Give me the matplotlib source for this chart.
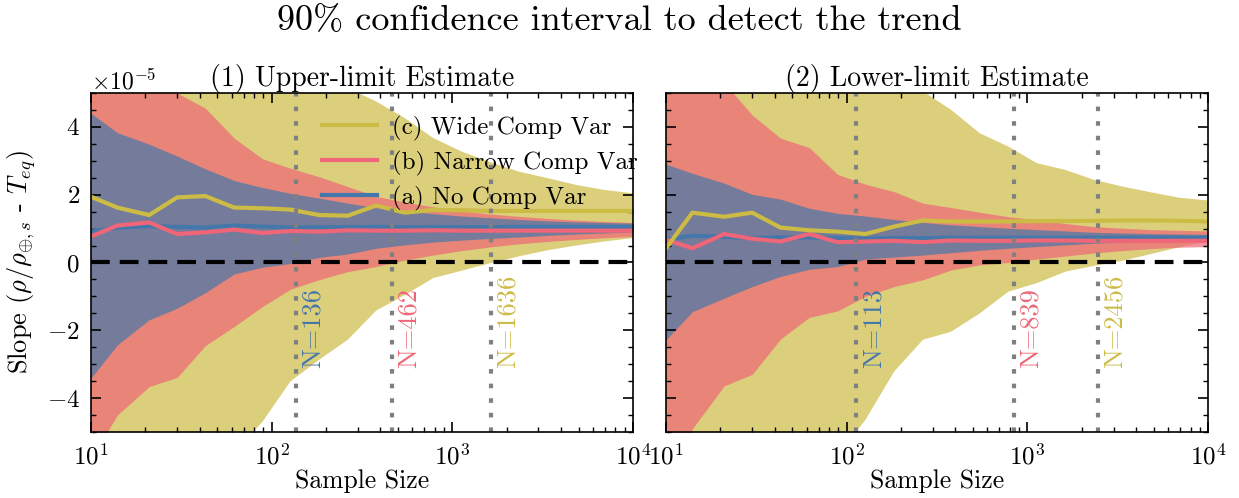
import numpy as np
import matplotlib
matplotlib.use('Agg')
import matplotlib.pyplot as plt
from matplotlib.ticker import MultipleLocator, ScalarFormatter

plt.rcParams['font.family'] = 'serif'
plt.rcParams['font.serif'] = ['cmr10']
plt.rcParams['mathtext.fontset'] = 'cm'
plt.rcParams['axes.formatter.use_mathtext'] = True
plt.rcParams['axes.unicode_minus'] = True

# sample sizes
sizes = [10, 14, 21, 30, 43, 62, 89, 127, 183, 264, 379, 546, 785, 1129,
         1624, 2336, 3360, 4833, 6952, 10000]

# (1) upper-limit estimate, slope in units of 1e-5
up_yel_mean = [1.94, 1.62, 1.40, 1.92, 1.96, 1.62, 1.60, 1.56, 1.40, 1.38,
               1.68, 1.47, 1.55, 1.54, 1.52, 1.52, 1.52, 1.52, 1.52, 1.52]
up_red_mean = [0.77, 1.09, 1.18, 0.84, 0.89, 0.97, 0.87, 0.93, 0.91, 0.95,
               0.94, 0.94, 0.95, 0.94, 0.94, 0.94, 0.94, 0.94, 0.94, 0.94]
up_blue_mean = [0.91, 1.03, 1.07, 1.05, 1.03, 1.09, 1.06, 1.03, 1.04, 1.04,
                1.05, 1.04, 1.04, 1.04, 1.04, 1.05, 1.05, 1.05, 1.05, 1.05]
up_yel_hi = [12, 11, 10, 9, 8.5, 8, 7, 6.5, 6, 5.15,
             4.75, 4.26, 3.67, 3.27, 2.96, 2.68, 2.49, 2.29, 2.14, 2.04]
up_yel_lo = [-12, -11, -10, -9, -8, -5.6, -4.7, -3.51, -2.87, -2.28,
             -1.42, -0.96, -0.46, -0.24, -0.02, 0.18, 0.36, 0.50, 0.62, 0.72]
up_red_hi = [7.2, 6.3, 5.6, 5.0, 4.55, 3.67, 3.06, 2.78, 2.53, 2.24,
             1.95, 1.78, 1.64, 1.52, 1.43, 1.36, 1.30, 1.25, 1.21, 1.18]
up_red_lo = [-5.8, -4.5, -3.66, -3.39, -2.45, -1.89, -1.30, -0.79, -0.51, -0.27,
             -0.12, 0.07, 0.22, 0.35, 0.46, 0.55, 0.62, 0.68, 0.73, 0.77]
up_blue_hi = [4.40, 3.83, 3.49, 3.14, 2.76, 2.42, 2.21, 2.04, 1.90, 1.75,
              1.62, 1.52, 1.44, 1.37, 1.32, 1.27, 1.23, 1.20, 1.18, 1.16]
up_blue_lo = [-3.41, -2.43, -1.69, -1.35, -0.89, -0.34, -0.14, -0.03, 0.15, 0.25,
              0.42, 0.52, 0.60, 0.66, 0.71, 0.75, 0.80, 0.84, 0.87, 0.90]
up_n = [136, 462, 1636]

# (2) lower-limit estimate
lo_yel_mean = [0.42, 1.47, 1.35, 1.47, 1.03, 0.95, 0.91, 0.84, 1.06, 1.24,
               1.21, 1.21, 1.21, 1.22, 1.22, 1.23, 1.24, 1.24, 1.23, 1.21]
lo_red_mean = [0.67, 0.42, 0.84, 0.70, 0.62, 0.84, 0.60, 0.62, 0.64, 0.60,
               0.65, 0.64, 0.64, 0.65, 0.65, 0.64, 0.64, 0.64, 0.64, 0.64]
lo_blue_mean = [0.67, 0.79, 0.76, 0.72, 0.74, 0.74, 0.72, 0.70, 0.72, 0.72,
                0.73, 0.73, 0.73, 0.73, 0.73, 0.73, 0.73, 0.73, 0.73, 0.73]
lo_yel_hi = [12, 11, 10, 9, 8.5, 8, 7, 6, 5.6, 5.05,
             4.5, 3.81, 3.42, 2.93, 2.73, 2.44, 2.24, 2.07, 1.91, 1.83]
lo_yel_lo = [-12, -11, -10, -9, -8, -7, -5.7, -4.64, -3.22, -2.28,
             -2.04, -1.50, -0.86, -0.61, -0.27, -0.10, 0.05, 0.25, 0.45, 0.62]
lo_red_hi = [7.0, 6.0, 5.3, 4.35, 3.67, 3.39, 2.60, 2.31, 2.09, 1.75,
             1.62, 1.48, 1.35, 1.26, 1.15, 1.06, 1.01, 0.97, 0.95, 0.93]
lo_red_lo = [-6.5, -4.9, -3.64, -3.30, -2.26, -1.62, -1.43, -1.00, -0.71, -0.51,
             -0.22, -0.07, 0.0, 0.10, 0.19, 0.28, 0.35, 0.41, 0.45, 0.47]
lo_blue_hi = [2.90, 2.63, 2.34, 2.01, 1.87, 1.60, 1.45, 1.37, 1.27, 1.18,
              1.11, 1.06, 1.01, 0.97, 0.93, 0.89, 0.87, 0.85, 0.84, 0.83]
lo_blue_lo = [-2.28, -1.45, -1.05, -0.71, -0.41, -0.20, -0.12, 0.10, 0.16, 0.22,
              0.29, 0.36, 0.42, 0.47, 0.52, 0.57, 0.60, 0.62, 0.63, 0.64]
lo_n = [113, 839, 2456]

c_blue = '#4477AA'
c_red = '#EE6677'
c_yel = '#CCBB44'
labels = ['(a) No Comp Var', '(b) Narrow Comp Var', '(c) Wide Comp Var']

fig, axes = plt.subplots(1, 2, figsize=(12.39, 4.98), dpi=100, sharey=True)
plt.subplots_adjust(left=0.0734, right=0.975, bottom=0.1325, top=0.8133, wspace=0.061)

panels = [
    ('(1) Upper-limit Estimate',
     [(up_blue_lo, up_blue_hi, up_blue_mean), (up_red_lo, up_red_hi, up_red_mean),
      (up_yel_lo, up_yel_hi, up_yel_mean)], up_n),
    ('(2) Lower-limit Estimate',
     [(lo_blue_lo, lo_blue_hi, lo_blue_mean), (lo_red_lo, lo_red_hi, lo_red_mean),
      (lo_yel_lo, lo_yel_hi, lo_yel_mean)], lo_n),
]
colors = [c_blue, c_red, c_yel]
s = 1e-5

for ax, (title, series, nvals) in zip(axes, panels):
    # bands: yellow below, then red, then blue
    for k in [2, 1, 0]:
        lo, hi, _ = series[k]
        ax.fill_between(sizes, np.array(lo) * s, np.array(hi) * s,
                        color=colors[k], alpha=0.7, lw=0)
    handles = []
    for k in [0, 1, 2]:
        h, = ax.plot(sizes, np.array(series[k][2]) * s, color=colors[k], lw=3,
                     label=labels[k])
        handles.append(h)
    ax.axhline(0, color='k', lw=3, ls=(0, (4.5, 2.4)))
    for n, c in zip(nvals, colors):
        ax.axvline(n, color='gray', lw=3, ls=(0, (1.1, 2.4)))
        ax.text(n * 1.07, -3.1e-5, 'N=%d' % n, color=c, rotation=90,
                ha='left', va='bottom', fontsize=19)
    ax.set_xscale('log')
    ax.set_xlim(10, 1e4)
    ax.set_ylim(-5e-5, 5e-5)
    ax.set_title(title, fontsize=20, pad=5)
    ax.set_xlabel('Sample Size', fontsize=18.5, labelpad=0)
    ax.tick_params(which='both', direction='in', top=True, right=True, labelsize=18)
    ax.tick_params(which='major', length=7, width=1.2, pad=8)
    ax.tick_params(which='minor', length=3.5, width=1)
    for sp in ax.spines.values():
        sp.set_linewidth(1.2)

ax1, ax2 = axes
fmt = ScalarFormatter(useMathText=True)
fmt.set_powerlimits((0, 0))
ax1.yaxis.set_major_formatter(fmt)
ax1.yaxis.set_major_locator(MultipleLocator(2e-5))
ax1.yaxis.set_minor_locator(MultipleLocator(0.5e-5))
ax1.yaxis.get_offset_text().set_fontsize(17)
ax1.set_ylabel(r'Slope ($\rho/\rho_{\oplus,s}$ - $T_{eq}$)', fontsize=19, labelpad=6)
ax2.tick_params(labelleft=False)

ax1.legend(handles[::-1], labels[::-1], loc='upper left', bbox_to_anchor=(0.385, 1.0),
           frameon=False, fontsize=18, handlelength=2.2, handletextpad=0.6,
           labelspacing=0.4)

fig.suptitle('90% confidence interval to detect the trend', fontsize=26, y=0.99)
fig.savefig('out.png', dpi=100)
